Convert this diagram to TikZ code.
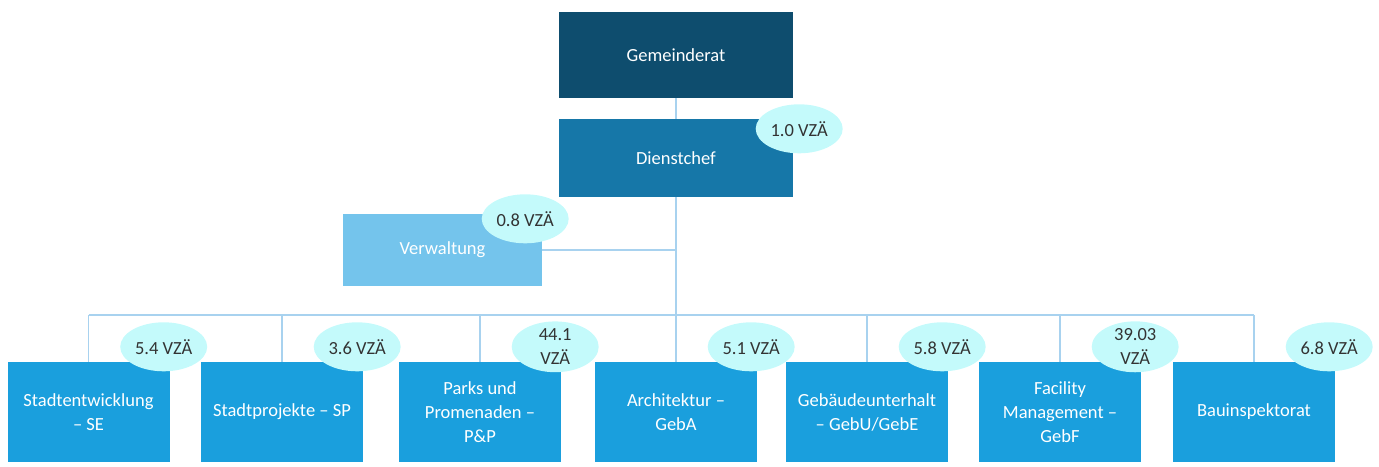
\documentclass[tikz,border=0pt]{standalone}
\usepackage{fontspec}
\setmainfont{Carlito}
\usetikzlibrary{shapes.geometric}
\definecolor{rat}{HTML}{0E4D6E}
\definecolor{chef}{HTML}{1677A8}
\definecolor{verw}{HTML}{74C4EC}
\definecolor{abt}{HTML}{1A9FDD}
\definecolor{vzfill}{HTML}{C4FAFB}
\definecolor{linie}{HTML}{A8D2EF}
\begin{document}
\begin{tikzpicture}[x=1pt, y=-1pt,
	box/.style={rectangle, inner sep=0pt, minimum width=234pt, minimum height=80pt, text=white, font=\fontsize{18.5}{24}\selectfont, align=center},
	unit/.style={box, fill=abt, minimum width=162pt, minimum height=100pt},
	vza/.style={ellipse, fill=vzfill, inner sep=0pt, minimum width=87pt, minimum height=49pt, text=black!80, font=\fontsize{18.5}{24}\selectfont, align=center},
	link/.style={draw=linie, line width=1.6pt}]
	\useasboundingbox (0,0) rectangle (1379,466);
	\coordinate (bus) at (676,315);
	% oberste Ebene
	\node[box, fill=rat, minimum height=86pt] (gr) at (676,55) {Gemeinderat};
	\node[box, fill=chef, minimum height=78pt] (dc) at (676,158) {Dienstchef};
	\node[box, fill=verw, minimum width=199pt, minimum height=72pt] (vw) at (442.5,250) {Verwaltung};
	\draw[link] (gr.south) -- (dc.north);
	\draw[link] (dc.south) -- (bus);
	\draw[link] (vw.east) -- (vw.east -| dc.south);
	\node[vza] (dc-v) at ([xshift=6pt,yshift=-10pt]dc.north east) {1.0 VZÄ};
	\node[vza] (vw-v) at ([xshift=-17pt,yshift=-5pt]vw.north east) {0.8 VZÄ};
	% Abteilungen
	\foreach \cx/\nm/\txt/\vz in {
		88.5/se/{Stadtentwicklung\\– SE}/{5.4 VZÄ},
		282/sp/{Stadtprojekte – SP}/{3.6 VZÄ},
		480/pp/{Parks und\\Promenaden –\\P\&P}/{44.1\\VZÄ},
		676/ga/{Architektur –\\GebA}/{5.1 VZÄ},
		867/gu/{Gebäudeunterhalt\\– GebU/GebE}/{5.8 VZÄ},
		1060/gf/{Facility\\Management –\\GebF}/{39.03\\VZÄ},
		1254/bi/{Bauinspektorat}/{6.8 VZÄ}}
	{
		\node[unit] (\nm) at (\cx,412) {\txt};
		\draw[link] (\nm.north) -- (\nm.north |- bus);
		\node[vza] (\nm-v) at ([xshift=-6pt,yshift=15pt]\nm.north east) {\vz};
	}
	\draw[link] (se.north |- bus) -- (bi.north |- bus);
\end{tikzpicture}
\end{document}
